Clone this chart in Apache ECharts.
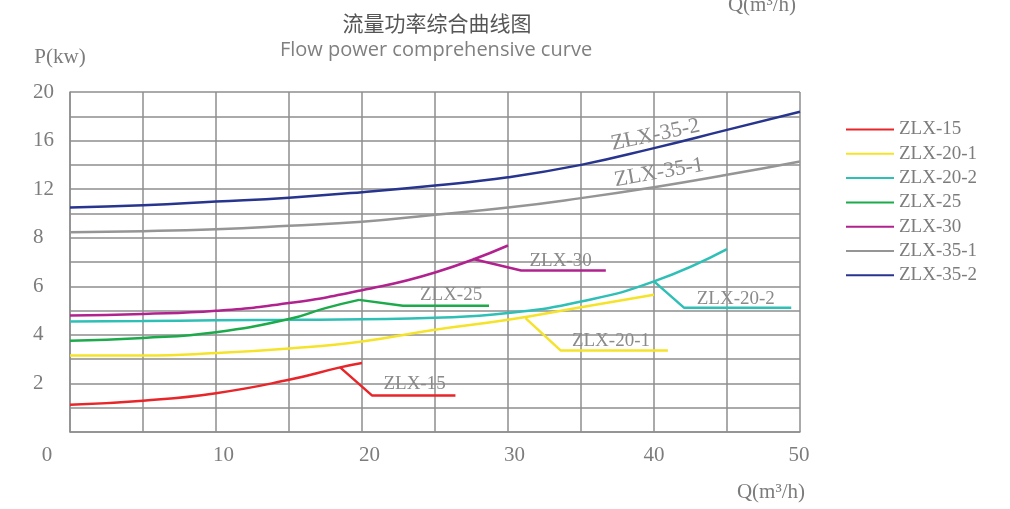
<!DOCTYPE html>
<html>
<head>
<meta charset="utf-8">
<script src="https://cdn.jsdelivr.net/npm/echarts@6/dist/echarts.min.js"></script>
<style>
html,body{margin:0;padding:0;background:#fff;}
#chart{width:1010px;height:509px;}
</style>
</head>
<body>
<div id="chart"></div>
<script>
// ---- Data (Q in m³/h, P in kW) ----
const seriesNames = ['ZLX-15','ZLX-20-1','ZLX-20-2','ZLX-25','ZLX-30','ZLX-35-1','ZLX-35-2'];
const seriesColors = ['#e8262a','#f5e32a','#2ebfb6','#1caa4b','#b1228e','#959595','#27358f'];

const q15 = [0, 5, 10, 15, 18.5, 20];
const p15 = [1.12, 1.29, 1.6, 2.15, 2.66, 2.84];
const q201 = [0, 5, 10, 15, 20, 25, 30, 35, 40];
const p201 = [3.15, 3.15, 3.25, 3.44, 3.73, 4.21, 4.62, 5.14, 5.65];
const q202 = [0, 5, 10, 15, 20, 25, 30, 35, 40, 45];
const p202 = [4.55, 4.57, 4.6, 4.62, 4.64, 4.7, 4.9, 5.37, 6.2, 7.53];
const q25 = [0, 5, 10, 15, 17.5, 19.8];
const p25 = [3.76, 3.87, 4.11, 4.65, 5.1, 5.44];
const q30 = [0, 5, 10, 15, 20, 25, 30];
const p30 = [4.8, 4.86, 4.99, 5.31, 5.84, 6.57, 7.68];
const q351 = [0, 5, 10, 15, 20, 25, 30, 35, 40, 45, 50];
const p351 = [8.46, 8.54, 8.7, 8.98, 9.31, 9.89, 10.48, 11.26, 12.16, 13.18, 14.28];
const q352 = [0, 5, 10, 15, 20, 25, 30, 35, 40, 45, 50];
const p352 = [10.48, 10.68, 10.98, 11.3, 11.75, 12.3, 12.98, 14.0, 15.38, 16.88, 18.38];

// leader lines to the curve labels
const leadQ15 = [18.5, 20.7, 26.4];    const leadP15 = [2.66, 1.5, 1.5];
const leadQ201 = [31.2, 33.6, 40.95];  const leadP201 = [4.69, 3.36, 3.36];
const leadQ202 = [40, 42.05, 49.4];    const leadP202 = [6.2, 5.12, 5.12];
const leadQ25 = [19.8, 22.8, 28.7];    const leadP25 = [5.44, 5.2, 5.2];
const leadQ30 = [27.6, 30.9, 36.7];    const leadP30 = [7.12, 6.65, 6.65];

// curve label anchor points [Q, P], rotation and size
const labelQ = [23.6, 37.05, 45.6, 26.1, 33.6, 40.35, 40.1];
const labelP = [1.99, 3.73, 5.47, 5.62, 7.06, 13.36, 16.46];
const labelRot = [0, 0, 0, 0, 0, 10, 12];
const labelSize = [19, 19, 19, 19, 19, 22, 22];

// axis ticks: P value at each horizontal gridline (scale is non-linear above 8)
const yGridValues = [0, 1, 2, 3, 4, 5, 6, 7, 8, 10, 12, 14, 16, 18, 20];
const yLabelValues = [2, 4, 6, 8, 12, 16, 20];
const xLabelValues = [0, 10, 20, 30, 40, 50];

// map P (kW) to gridline index
function toAxis(p) {
  for (let i = 0; i < yGridValues.length - 1; i++) {
    const a = yGridValues[i], b = yGridValues[i + 1];
    if (p <= b) return i + (p - a) / (b - a);
  }
  return yGridValues.length - 1;
}
function pairs(qs, ps) { return qs.map((q, i) => [q, toAxis(ps[i])]); }

const curves = [[q15,p15],[q201,p201],[q202,p202],[q25,p25],[q30,p30],[q351,p351],[q352,p352]];
const leaders = [[leadQ15,leadP15],[leadQ201,leadP201],[leadQ202,leadP202],[leadQ25,leadP25],[leadQ30,leadP30],null,null];

const serif = '"Liberation Serif", "DejaVu Serif", serif';
const txtGray = '#7c7c7c';
const gridColor = '#8e8e8e';

const series = [];
seriesNames.forEach((name, i) => {
  series.push({
    name: name, type: 'line', smooth: true, symbol: 'none', showSymbol: false,
    data: pairs(curves[i][0], curves[i][1]),
    lineStyle: { color: seriesColors[i], width: 2.5 },
    itemStyle: { color: seriesColors[i] },
    z: 3
  });
  const lab = {
    coord: [labelQ[i], toAxis(labelP[i])], symbolSize: 0,
    label: { show: true, position: 'inside', formatter: name, rotate: labelRot[i],
             color: '#8a8a8a', fontSize: labelSize[i], fontFamily: serif }
  };
  series.push({
    name: name, type: 'line', smooth: false, symbol: 'none', showSymbol: false,
    data: leaders[i] ? pairs(leaders[i][0], leaders[i][1]) : [],
    lineStyle: { color: seriesColors[i], width: 2.5 },
    itemStyle: { color: seriesColors[i] },
    markPoint: { symbol: 'circle', symbolSize: 0, silent: true, data: [lab], label: { show: true } },
    z: 3
  });
});

const xRich = {
  x0: { padding: [0, 46, 0, 0] },
  x10: { padding: [0, 0, 0, 15] },
  x20: { padding: [0, 0, 0, 15] },
  x30: { padding: [0, 0, 0, 13] },
  x40: { padding: [0, 0, 0, 0] },
  x50: { padding: [0, 2, 0, 0] }
};

const chart = echarts.init(document.getElementById('chart'), null, { renderer: 'canvas' });
chart.setOption({
  animation: false,
  backgroundColor: '#ffffff',
  title: [
    { text: '流量功率综合曲线图', left: 432, top: 8, textAlign: 'center',
      textStyle: { fontSize: 21, fontWeight: 'normal', color: '#555', fontFamily: '"Noto Sans CJK SC", sans-serif' } },
    { text: 'Flow power comprehensive curve', left: 431, top: 35, textAlign: 'center',
      textStyle: { fontSize: 20, fontWeight: 'normal', color: '#808080', fontFamily: '"Open Sans", "Noto Sans", sans-serif' } }
  ],
  graphic: [
    { type: 'text', x: 762, y: 5, silent: true,
      style: { text: 'Q(m³/h)', textAlign: 'center', textVerticalAlign: 'middle',
               fill: txtGray, fontSize: 21, fontFamily: serif } }
  ],
  legend: {
    orient: 'vertical', left: 841, top: 115,
    itemWidth: 48, itemHeight: 2, itemGap: 5.3,
    icon: 'rect',
    data: seriesNames,
    textStyle: { fontSize: 19, color: txtGray, fontFamily: serif }
  },
  grid: { left: 70, right: 210, top: 92, bottom: 77, containLabel: false },
  xAxis: {
    type: 'value', min: 0, max: 50, interval: 5,
    name: 'Q(m³/h)', nameLocation: 'end', nameGap: 0,
    nameTextStyle: { fontSize: 21, color: txtGray, fontFamily: serif, align: 'center',
                     verticalAlign: 'top', padding: [50, 58, 0, 0] },
    axisLine: { show: true, lineStyle: { color: gridColor, width: 1.5 } },
    axisTick: { show: false },
    splitLine: { show: true, lineStyle: { color: gridColor, width: 1.5 } },
    axisLabel: {
      show: true, margin: 13, showMinLabel: true, showMaxLabel: true,
      fontSize: 21, color: txtGray, fontFamily: serif,
      formatter: v => xLabelValues.includes(v) ? '{x' + v + '|' + v + '}' : '',
      rich: xRich
    }
  },
  yAxis: {
    type: 'value', min: 0, max: yGridValues.length - 1, interval: 1,
    name: 'P(kw)', nameLocation: 'end', nameGap: 24,
    nameTextStyle: { fontSize: 21, color: txtGray, fontFamily: serif, align: 'center', padding: [0, 20, 0, 0] },
    axisLine: { show: true, lineStyle: { color: gridColor, width: 1.5 } },
    axisTick: { show: false },
    splitLine: { show: true, lineStyle: { color: gridColor, width: 1.5 } },
    axisLabel: {
      show: true, align: 'left', margin: 37, showMaxLabel: true,
      fontSize: 21, color: txtGray, fontFamily: serif,
      formatter: v => {
        const val = yGridValues[Math.round(v)];
        return yLabelValues.includes(val) ? String(val) : '';
      }
    }
  },
  series: series
});
</script>
</body>
</html>
